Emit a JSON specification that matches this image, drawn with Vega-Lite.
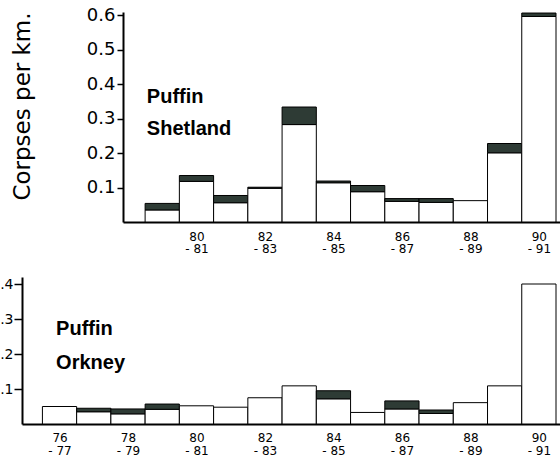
{
  "$schema": "https://vega.github.io/schema/vega-lite/v6.json",
  "background": "white",
  "padding": {"left": -10, "top": 6, "right": 0, "bottom": 0},
  "spacing": 22,
  "config": {
    "view": {"stroke": null},
    "font": "DejaVu Sans",
    "axis": {"domainColor": "black", "tickColor": "black", "labelColor": "black", "titleColor": "black", "grid": false, "labelFont": "DejaVu Sans", "titleFont": "DejaVu Sans", "labelFlush": false}
  },
  "datasets": {
    "shetland": [
      {"period": "79-80", "start": 79, "end": 80, "part": "clean", "value": 0.035},
      {"period": "79-80", "start": 79, "end": 80, "part": "oiled", "value": 0.019},
      {"period": "80-81", "start": 80, "end": 81, "part": "clean", "value": 0.118},
      {"period": "80-81", "start": 80, "end": 81, "part": "oiled", "value": 0.017},
      {"period": "81-82", "start": 81, "end": 82, "part": "clean", "value": 0.056},
      {"period": "81-82", "start": 81, "end": 82, "part": "oiled", "value": 0.021},
      {"period": "82-83", "start": 82, "end": 83, "part": "clean", "value": 0.098},
      {"period": "82-83", "start": 82, "end": 83, "part": "oiled", "value": 0.003},
      {"period": "83-84", "start": 83, "end": 84, "part": "clean", "value": 0.283},
      {"period": "83-84", "start": 83, "end": 84, "part": "oiled", "value": 0.051},
      {"period": "84-85", "start": 84, "end": 85, "part": "clean", "value": 0.114},
      {"period": "84-85", "start": 84, "end": 85, "part": "oiled", "value": 0.005},
      {"period": "85-86", "start": 85, "end": 86, "part": "clean", "value": 0.088},
      {"period": "85-86", "start": 85, "end": 86, "part": "oiled", "value": 0.018},
      {"period": "86-87", "start": 86, "end": 87, "part": "clean", "value": 0.060},
      {"period": "86-87", "start": 86, "end": 87, "part": "oiled", "value": 0.008},
      {"period": "87-88", "start": 87, "end": 88, "part": "clean", "value": 0.057},
      {"period": "87-88", "start": 87, "end": 88, "part": "oiled", "value": 0.011},
      {"period": "88-89", "start": 88, "end": 89, "part": "clean", "value": 0.062},
      {"period": "89-90", "start": 89, "end": 90, "part": "clean", "value": 0.201},
      {"period": "89-90", "start": 89, "end": 90, "part": "oiled", "value": 0.027},
      {"period": "90-91", "start": 90, "end": 91, "part": "clean", "value": 0.597},
      {"period": "90-91", "start": 90, "end": 91, "part": "oiled", "value": 0.010}
    ],
    "orkney": [
      {"period": "76-77", "start": 76, "end": 77, "part": "clean", "value": 0.050},
      {"period": "77-78", "start": 77, "end": 78, "part": "clean", "value": 0.035},
      {"period": "77-78", "start": 77, "end": 78, "part": "oiled", "value": 0.010},
      {"period": "78-79", "start": 78, "end": 79, "part": "clean", "value": 0.029},
      {"period": "78-79", "start": 78, "end": 79, "part": "oiled", "value": 0.014},
      {"period": "79-80", "start": 79, "end": 80, "part": "clean", "value": 0.042},
      {"period": "79-80", "start": 79, "end": 80, "part": "oiled", "value": 0.015},
      {"period": "80-81", "start": 80, "end": 81, "part": "clean", "value": 0.052},
      {"period": "81-82", "start": 81, "end": 82, "part": "clean", "value": 0.048},
      {"period": "82-83", "start": 82, "end": 83, "part": "clean", "value": 0.075},
      {"period": "83-84", "start": 83, "end": 84, "part": "clean", "value": 0.109},
      {"period": "84-85", "start": 84, "end": 85, "part": "clean", "value": 0.072},
      {"period": "84-85", "start": 84, "end": 85, "part": "oiled", "value": 0.023},
      {"period": "85-86", "start": 85, "end": 86, "part": "clean", "value": 0.033},
      {"period": "86-87", "start": 86, "end": 87, "part": "clean", "value": 0.043},
      {"period": "86-87", "start": 86, "end": 87, "part": "oiled", "value": 0.023},
      {"period": "87-88", "start": 87, "end": 88, "part": "clean", "value": 0.030},
      {"period": "87-88", "start": 87, "end": 88, "part": "oiled", "value": 0.010},
      {"period": "88-89", "start": 88, "end": 89, "part": "clean", "value": 0.061},
      {"period": "89-90", "start": 89, "end": 90, "part": "clean", "value": 0.109},
      {"period": "90-91", "start": 90, "end": 91, "part": "clean", "value": 0.400}
    ]
  },
  "vconcat": [
    {
      "width": 539,
      "height": 210,
      "layer": [
        {
          "data": {"name": "shetland"},
          "transform": [{"stack": "value", "groupby": ["start"], "sort": [{"field": "part", "order": "ascending"}], "as": ["v0", "v1"]}],
          "mark": {"type": "bar", "stroke": "black", "strokeWidth": 1, "orient": "vertical"},
          "encoding": {
            "x": {
              "field": "start", "type": "quantitative",
              "scale": {"domain": [78.5, 91], "range": [101, 539], "nice": false, "zero": false},
              "axis": {"values": [80.5, 82.5, 84.5, 86.5, 88.5, 90.5], "labelExpr": "[format(floor(datum.value), 'd'), '- ' + format(floor(datum.value) + 1, 'd')]", "ticks": false, "tickSize": 0, "domainWidth": 2, "labelPadding": 9, "labelFontSize": 12, "labelLineHeight": 12, "title": null}
            },
            "x2": {"field": "end"},
            "y": {
              "field": "v0", "type": "quantitative",
              "scale": {"domain": [0, 0.61], "nice": false},
              "axis": {"values": [0.1, 0.2, 0.3, 0.4, 0.5, 0.6], "format": ".1f", "offset": -101, "tickSize": 6, "tickWidth": 1.5, "labelPadding": 2, "labelFontSize": 18, "domainWidth": 2, "title": "Corpses per km.", "titleFontSize": 23, "titleFontWeight": "normal", "titlePadding": 52, "titleY": 94}
            },
            "y2": {"field": "v1"},
            "color": {"field": "part", "type": "nominal", "scale": {"domain": ["clean", "oiled"], "range": ["white", "#2e3b35"]}, "legend": null}
          }
        },
        {
          "data": {"values": [{}]},
          "mark": {"type": "text", "align": "left", "baseline": "top", "font": "Liberation Sans", "fontSize": 20, "fontWeight": "bold", "lineHeight": 32, "color": "black"},
          "encoding": {
            "x": {"datum": 79.05, "type": "quantitative"},
            "y": {"datum": 0.392, "type": "quantitative"},
            "text": {"value": ["Puffin", "Shetland"]}
          }
        }
      ]
    },
    {
      "width": 539,
      "height": 147,
      "layer": [
        {
          "data": {"name": "orkney"},
          "transform": [{"stack": "value", "groupby": ["start"], "sort": [{"field": "part", "order": "ascending"}], "as": ["v0", "v1"]}],
          "mark": {"type": "bar", "stroke": "black", "strokeWidth": 1, "orient": "vertical"},
          "encoding": {
            "x": {
              "field": "start", "type": "quantitative",
              "scale": {"domain": [75.55, 91], "nice": false, "zero": false},
              "axis": {"values": [76.5, 78.5, 80.5, 82.5, 84.5, 86.5, 88.5, 90.5], "labelExpr": "[format(floor(datum.value), 'd'), '- ' + format(floor(datum.value) + 1, 'd')]", "ticks": false, "tickSize": 0, "domainWidth": 2, "labelPadding": 8, "labelFontSize": 12, "labelLineHeight": 13, "title": null}
            },
            "x2": {"field": "end"},
            "y": {
              "field": "v0", "type": "quantitative",
              "scale": {"domain": [0, 0.42], "nice": false},
              "axis": {"values": [0.1, 0.2, 0.3, 0.4], "format": ".1f", "tickSize": 8, "tickWidth": 1.5, "labelPadding": 1, "labelFontSize": 14, "domainWidth": 2, "title": null}
            },
            "y2": {"field": "v1"},
            "color": {"field": "part", "type": "nominal", "scale": {"domain": ["clean", "oiled"], "range": ["white", "#2e3b35"]}, "legend": null}
          }
        },
        {
          "data": {"values": [{}]},
          "mark": {"type": "text", "align": "left", "baseline": "top", "font": "Liberation Sans", "fontSize": 20, "fontWeight": "bold", "lineHeight": 34, "color": "black"},
          "encoding": {
            "x": {"datum": 76.4, "type": "quantitative"},
            "y": {"datum": 0.3, "type": "quantitative"},
            "text": {"value": ["Puffin", "Orkney"]}
          }
        }
      ]
    }
  ]
}
